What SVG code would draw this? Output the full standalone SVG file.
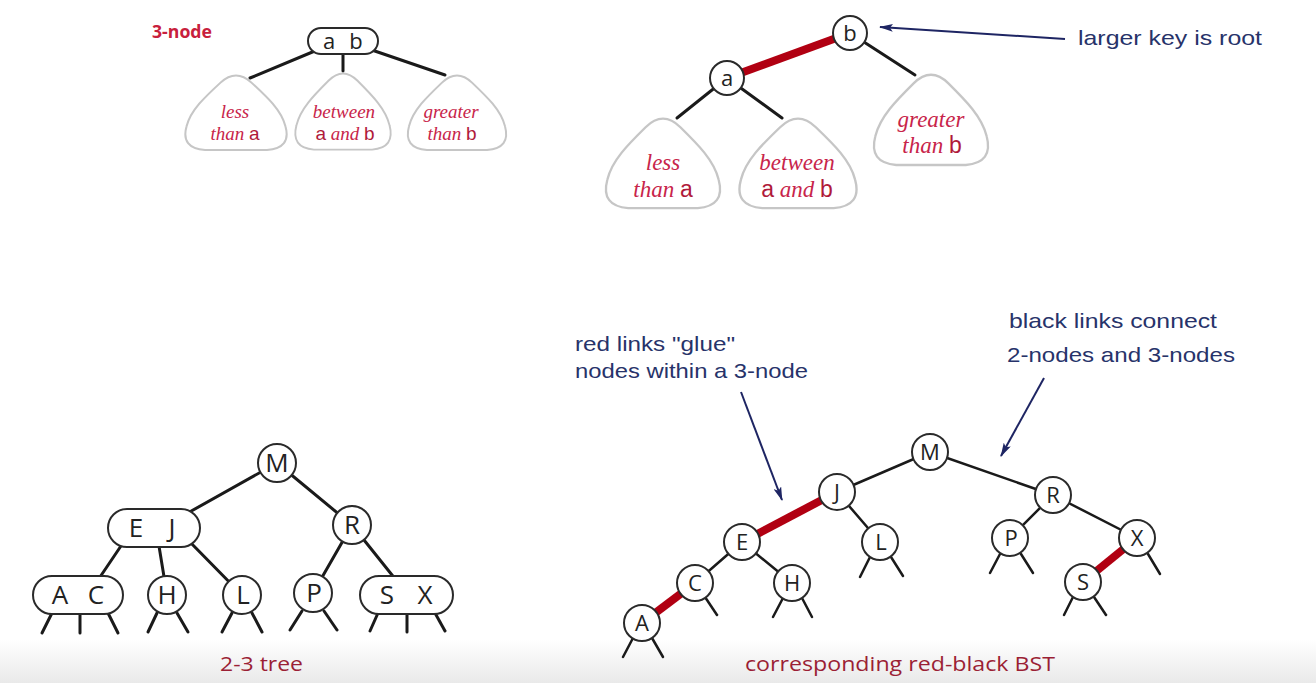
<svg xmlns="http://www.w3.org/2000/svg" width="1316" height="683" viewBox="0 0 1316 683">
<defs>
<linearGradient id="bg" x1="0" y1="0" x2="0" y2="1">
<stop offset="0" stop-color="#ffffff"/>
<stop offset="1" stop-color="#e9e9e9"/>
</linearGradient>
<path id="tri" d="M -15,9 Q 0,-6 15,9 C 30,24 44,38 48,55 Q 54,78 30,80 L -30,80 Q -54,78 -48,55 C -44,38 -30,24 -15,9 Z"/>
<marker id="ah" viewBox="0 0 14 8" refX="13" refY="4" markerWidth="14" markerHeight="8" markerUnits="userSpaceOnUse" orient="auto">
<path d="M0,0 L14,4 L0,8 L3,4 Z" fill="#1e2563"/>
</marker>
<style>
.tri{fill:#fff;stroke:#c6c6c6;stroke-width:2;vector-effect:non-scaling-stroke}
.e{stroke:#1a1a1a;stroke-width:3;stroke-linecap:round;fill:none}
.eb{stroke:#1a1a1a;stroke-width:2.5;stroke-linecap:round;fill:none}
.red{stroke:#b10012;stroke-width:8;stroke-linecap:butt;fill:none}
.n{fill:#fff;stroke:#2a2a2a;stroke-width:2}
.k{font-family:"Open Sans","Liberation Sans",sans-serif;fill:#222;text-anchor:middle}
.k26{font-size:26px}
.k22{font-size:22px}
.it{font-family:"Liberation Serif",serif;font-style:italic;fill:#c8244a;text-anchor:middle}
.sa{font-family:"Liberation Sans",sans-serif;font-style:normal;fill:#b01a3a}
.ann{font-family:"Liberation Sans",sans-serif;font-size:21px;fill:#27336a}
.arr{stroke:#1e2563;stroke-width:2;fill:none;marker-end:url(#ah)}
.cap{font-family:"Open Sans","Liberation Sans",sans-serif;font-size:20px;fill:#9b1f35}
</style>
</defs>
<rect x="0" y="0" width="1316" height="683" fill="#fff"/>
<rect x="0" y="640" width="1316" height="43" fill="url(#bg)"/>

<!-- Connectors -->
<g id="connectors">
<line class="e" x1="322" y1="48" x2="250" y2="78"/>
<line class="e" x1="343" y1="50" x2="343" y2="71"/>
<line class="e" x1="366" y1="48" x2="445" y2="75"/>
<line class="red" x1="727" y1="78" x2="850" y2="33"/>
<line class="e" x1="850" y1="33" x2="915" y2="75"/>
<line class="e" x1="727" y1="78" x2="677" y2="118"/>
<line class="e" x1="727" y1="78" x2="782" y2="118"/>
<line class="arr" x1="1065" y1="39" x2="880" y2="27"/>
<line class="e" x1="277" y1="463" x2="186" y2="514"/>
<line class="e" x1="277" y1="463" x2="352" y2="525"/>
<line class="e" x1="125" y1="540" x2="98" y2="580"/>
<line class="e" x1="158" y1="540" x2="167" y2="595"/>
<line class="e" x1="188" y1="540" x2="242" y2="595"/>
<line class="e" x1="352" y1="525" x2="313" y2="593"/>
<line class="e" x1="352" y1="525" x2="396" y2="580"/>
<line class="e" x1="52" y1="613" x2="42" y2="633"/>
<line class="e" x1="80" y1="613" x2="80" y2="633"/>
<line class="e" x1="108" y1="613" x2="118" y2="633"/>
<line class="e" x1="157" y1="613" x2="148" y2="632"/>
<line class="e" x1="177" y1="613" x2="188" y2="632"/>
<line class="e" x1="232" y1="613" x2="222" y2="632"/>
<line class="e" x1="252" y1="613" x2="262" y2="632"/>
<line class="e" x1="302" y1="611" x2="290" y2="630"/>
<line class="e" x1="324" y1="611" x2="337" y2="630"/>
<line class="e" x1="378" y1="613" x2="370" y2="631"/>
<line class="e" x1="407" y1="613" x2="407" y2="632"/>
<line class="e" x1="435" y1="613" x2="445" y2="631"/>
<line class="eb" x1="930" y1="452" x2="837" y2="492"/>
<line class="eb" x1="930" y1="452" x2="1053" y2="495"/>
<line class="red" x1="837" y1="492" x2="742" y2="542"/>
<line class="eb" x1="837" y1="492" x2="880" y2="542"/>
<line class="eb" x1="742" y1="542" x2="695" y2="583"/>
<line class="eb" x1="742" y1="542" x2="792" y2="583"/>
<line class="red" x1="695" y1="583" x2="642" y2="623"/>
<line class="eb" x1="1053" y1="495" x2="1010" y2="538"/>
<line class="eb" x1="1053" y1="495" x2="1137" y2="538"/>
<line class="red" x1="1137" y1="538" x2="1083" y2="582"/>
<line class="eb" x1="705" y1="597" x2="717" y2="615"/>
<line class="eb" x1="633" y1="638" x2="623" y2="657"/>
<line class="eb" x1="652" y1="638" x2="663" y2="657"/>
<line class="eb" x1="783" y1="598" x2="773" y2="617"/>
<line class="eb" x1="802" y1="598" x2="812" y2="617"/>
<line class="eb" x1="870" y1="557" x2="860" y2="577"/>
<line class="eb" x1="891" y1="557" x2="903" y2="576"/>
<line class="eb" x1="1000" y1="554" x2="990" y2="573"/>
<line class="eb" x1="1021" y1="554" x2="1033" y2="573"/>
<line class="eb" x1="1148" y1="554" x2="1160" y2="574"/>
<line class="eb" x1="1073" y1="597" x2="1064" y2="615"/>
<line class="eb" x1="1094" y1="597" x2="1106" y2="615"/>
<line class="arr" x1="741" y1="392" x2="782" y2="500"/>
<line class="arr" x1="1044" y1="378" x2="1001" y2="456"/>
</g>

<text x="152" y="38" font-family="Open Sans, Liberation Sans, sans-serif" font-size="17" font-weight="bold" fill="#c8203c" textLength="60" lengthAdjust="spacingAndGlyphs">3-node</text>
<g id="node-ab">
<rect class="n" x="308" y="28" width="70" height="26" rx="13"/>
<text class="k k22" x="329" y="49">a</text>
<text class="k k22" x="356" y="49">b</text>
</g>
<g id="tl-less">
<use href="#tri" class="tri" transform="translate(236,74) scale(1.03,0.95)"/>
<text class="it" font-size="19"><tspan x="235" y="118">less</tspan><tspan x="235" y="140">than <tspan class="sa">a</tspan></tspan></text>
</g>
<g id="tl-between">
<use href="#tri" class="tri" transform="translate(343,72) scale(0.97,0.97)"/>
<text class="it" font-size="19"><tspan x="344" y="118">between</tspan><tspan x="345" y="140"><tspan class="sa">a</tspan> and <tspan class="sa">b</tspan></tspan></text>
</g>
<g id="tl-greater">
<use href="#tri" class="tri" transform="translate(457,74) scale(1.0,0.95)"/>
<text class="it" font-size="19"><tspan x="451" y="118">greater</tspan><tspan x="452" y="140">than <tspan class="sa">b</tspan></tspan></text>
</g>

<g id="node-b">
<circle class="n" cx="850" cy="33" r="17"/>
<text class="k k22" x="850" y="41">b</text>
</g>
<g id="node-a">
<circle class="n" cx="727" cy="78" r="17"/>
<text class="k k22" x="727" y="86">a</text>
</g>
<g id="tr-less">
<use href="#tri" class="tri" transform="translate(663,117) scale(1.16,1.14)"/>
<text class="it" font-size="23"><tspan x="663" y="170">less</tspan><tspan x="663" y="197">than <tspan class="sa">a</tspan></tspan></text>
</g>
<g id="tr-between">
<use href="#tri" class="tri" transform="translate(798,117) scale(1.19,1.14)"/>
<text class="it" font-size="23"><tspan x="797" y="170">between</tspan><tspan x="797" y="197"><tspan class="sa">a</tspan> and <tspan class="sa">b</tspan></tspan></text>
</g>
<g id="tr-greater">
<use href="#tri" class="tri" transform="translate(931,73) scale(1.16,1.15)"/>
<text class="it" font-size="23"><tspan x="931" y="127">greater</tspan><tspan x="932" y="153">than <tspan class="sa">b</tspan></tspan></text>
</g>
<text class="ann" x="1078" y="45" textLength="184" lengthAdjust="spacingAndGlyphs">larger key is root</text>

<g id="t-M"><circle class="n" cx="277" cy="463" r="19"/><text class="k k26" x="277" y="472">M</text></g>
<g id="t-EJ"><rect class="n" x="108" y="509" width="92" height="38" rx="19"/><text class="k k26" x="136" y="537">E</text><text class="k k26" x="172" y="537">J</text></g>
<g id="t-R"><circle class="n" cx="352" cy="525" r="19"/><text class="k k26" x="352" y="534">R</text></g>
<g id="t-AC"><rect class="n" x="33" y="576" width="90" height="38" rx="19"/><text class="k k26" x="60" y="604">A</text><text class="k k26" x="96" y="604">C</text></g>
<g id="t-H"><circle class="n" cx="167" cy="595" r="19"/><text class="k k26" x="167" y="604">H</text></g>
<g id="t-L"><circle class="n" cx="242" cy="595" r="19"/><text class="k k26" x="243" y="604">L</text></g>
<g id="t-P"><circle class="n" cx="313" cy="593" r="19"/><text class="k k26" x="314" y="602">P</text></g>
<g id="t-SX"><rect class="n" x="360" y="576" width="93" height="38" rx="19"/><text class="k k26" x="387" y="604">S</text><text class="k k26" x="425" y="604">X</text></g>
<text class="cap" x="220" y="671" textLength="83" lengthAdjust="spacingAndGlyphs">2-3 tree</text>

<g id="rb-M"><circle class="n" cx="930" cy="452" r="18"/><text class="k k22" x="930" y="460">M</text></g>
<g id="rb-J"><circle class="n" cx="837" cy="492" r="18"/><text class="k k22" x="837" y="500">J</text></g>
<g id="rb-R"><circle class="n" cx="1053" cy="495" r="18"/><text class="k k22" x="1053" y="503">R</text></g>
<g id="rb-E"><circle class="n" cx="742" cy="542" r="18"/><text class="k k22" x="742" y="550">E</text></g>
<g id="rb-L"><circle class="n" cx="880" cy="542" r="18"/><text class="k k22" x="881" y="550">L</text></g>
<g id="rb-C"><circle class="n" cx="695" cy="583" r="18"/><text class="k k22" x="695" y="591">C</text></g>
<g id="rb-H"><circle class="n" cx="792" cy="583" r="18"/><text class="k k22" x="792" y="591">H</text></g>
<g id="rb-A"><circle class="n" cx="642" cy="623" r="18"/><text class="k k22" x="642" y="631">A</text></g>
<g id="rb-P"><circle class="n" cx="1010" cy="538" r="18"/><text class="k k22" x="1011" y="546">P</text></g>
<g id="rb-X"><circle class="n" cx="1137" cy="538" r="18"/><text class="k k22" x="1137" y="546">X</text></g>
<g id="rb-S"><circle class="n" cx="1083" cy="582" r="18"/><text class="k k22" x="1083" y="590">S</text></g>
<text class="ann"><tspan x="575" y="351" textLength="160" lengthAdjust="spacingAndGlyphs">red links "glue"</tspan><tspan x="575" y="378" textLength="233" lengthAdjust="spacingAndGlyphs">nodes within a 3-node</tspan></text>
<text class="ann"><tspan x="1009" y="328" textLength="208" lengthAdjust="spacingAndGlyphs">black links connect</tspan><tspan x="1007" y="362" textLength="228" lengthAdjust="spacingAndGlyphs">2-nodes and 3-nodes</tspan></text>
<text class="cap" x="745" y="671" textLength="310" lengthAdjust="spacingAndGlyphs">corresponding red-black BST</text>
</svg>
